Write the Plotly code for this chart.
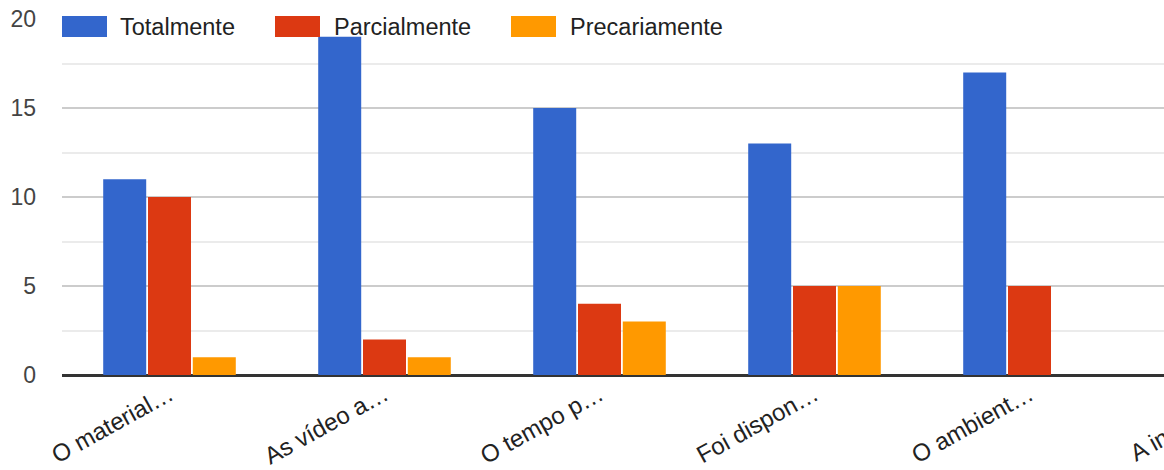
import plotly.graph_objects as go

categories = ["O material…", "As vídeo a…", "O tempo p…", "Foi dispon…", "O ambient…", "A interaçã…"]
series_names = ["Totalmente", "Parcialmente", "Precariamente"]
totalmente = [11, 19, 15, 13, 17, 14]
parcialmente = [10, 2, 4, 5, 5, 6]
precariamente = [1, 1, 3, 5, 0, 2]
y_ticks = [0, 5, 10, 15, 20]

colors = ["#3366cc", "#dc3912", "#ff9900"]
values = [totalmente, parcialmente, precariamente]

FONT = "Liberation Sans, Arial, sans-serif"

# geometry: plot from x=62 to 1352 (6 bands of 215px), y 19..375
L, T, B = 62, 19, 95
W, H = 1360, 470
PW = 6 * 215
R = W - L - PW
PH = H - T - B

fig = go.Figure()
for name, vals, col in zip(series_names, values, colors):
    fig.add_trace(go.Bar(
        x=categories, y=vals, name=name,
        marker=dict(color=col, line=dict(width=0)),
        showlegend=False,
    ))

# custom legend (squares + labels) at the top
legend_px = [(62, 118), (275, 332), (511, 568)]
for (sx, tx), name, col in zip(legend_px, series_names, colors):
    x0 = (sx - L) / PW
    x1 = (sx + 45 - L) / PW
    y0 = (T + PH - 37) / PH
    y1 = (T + PH - 16) / PH
    fig.add_shape(type="rect", xref="paper", yref="paper",
                  x0=x0, x1=x1, y0=y0, y1=y1,
                  fillcolor=col, line=dict(width=0), layer="above")
    fig.add_annotation(xref="paper", yref="paper",
                       x=(tx - L) / PW, y=(T + PH - 26.5) / PH,
                       text=name, showarrow=False, xanchor="left", yanchor="middle",
                       font=dict(family=FONT, size=23.5, color="#222222"))

fig.update_layout(
    width=W, height=H,
    margin=dict(l=L, r=R, t=T, b=B, pad=0, autoexpand=False),
    paper_bgcolor="white", plot_bgcolor="white",
    barmode="group", bargap=0.375, bargroupgap=0.04,
    font=dict(family=FONT, color="#222222"),
)
fig.update_xaxes(
    type="category", range=[-0.5, 5.5], automargin=False,
    tickangle=-29, tickfont=dict(size=24, color="#222222", family=FONT),
    showgrid=False, ticks="", ticklabelstandoff=0,
    showline=False,
)
fig.update_yaxes(
    range=[0, 20], tickvals=y_ticks, automargin=False,
    tickfont=dict(size=23, color="#444444", family=FONT),
    gridcolor="#cccccc", gridwidth=1.5,
    minor=dict(dtick=2.5, showgrid=True, gridcolor="#ebebeb", gridwidth=1.5),
    zeroline=True, zerolinecolor="#333333", zerolinewidth=3,
    ticks="", ticklabelstandoff=25, showline=False,
)

fig.write_html(
    "out.html",
    config={"displayModeBar": False},
    post_script="document.body.style.margin='0';document.body.style.overflow='hidden';document.documentElement.style.overflow='hidden';",
)
